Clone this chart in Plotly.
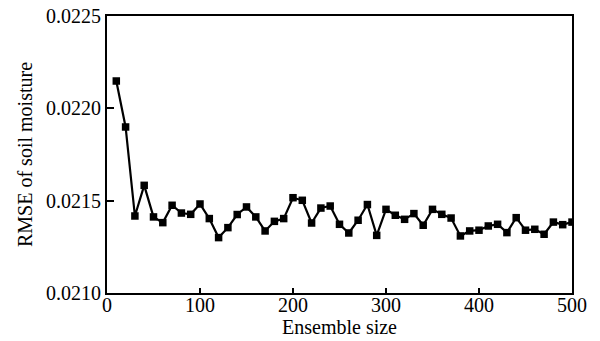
import plotly.graph_objects as go

ensemble_size = list(range(10, 510, 10))
rmse = [
    0.022148, 0.021899, 0.021417, 0.021583, 0.021412, 0.021381, 0.021475, 0.021433, 0.021426, 0.021482,
    0.021403, 0.021300, 0.021354, 0.021425, 0.021466, 0.021412, 0.021336, 0.021388, 0.021403, 0.021516,
    0.021502, 0.021379, 0.021460, 0.021471, 0.021372, 0.021325, 0.021394, 0.021479, 0.021312, 0.021453,
    0.021421, 0.021399, 0.021430, 0.021367, 0.021453, 0.021426, 0.021406, 0.021309, 0.021336, 0.021340,
    0.021363, 0.021372, 0.021327, 0.021408, 0.021340, 0.021345, 0.021318, 0.021384, 0.021370, 0.021384,
]
y_ticks = [0.0210, 0.0215, 0.0220, 0.0225]
y_ticklabels = ["0.0210", "0.0215", "0.0220", "0.0225"]
x_ticks = [0, 100, 200, 300, 400, 500]

fig = go.Figure()
fig.add_trace(go.Scatter(
    x=ensemble_size, y=rmse, mode="lines+markers",
    line=dict(color="black", width=2.2),
    marker=dict(symbol="square", size=7.5, color="black"),
    showlegend=False,
))

font = dict(family="Liberation Serif, Times New Roman, serif", size=20, color="black")
fig.update_layout(
    width=600, height=341,
    margin=dict(l=107, r=28, t=16, b=48),
    paper_bgcolor="white", plot_bgcolor="white",
    font=font,
)
fig.update_xaxes(
    range=[0, 500], tickvals=x_ticks, automargin=False,
    showline=True, linecolor="black", linewidth=2, mirror=True,
    ticks="inside", ticklen=5, tickwidth=1.5, tickcolor="black",
    showgrid=False, zeroline=False, ticklabelstandoff=-7,
    title=dict(text="Ensemble size", font=font, standoff=0),
    tickfont=font,
)
fig.update_yaxes(
    range=[0.0210, 0.0225], tickvals=y_ticks, ticktext=y_ticklabels, automargin=False,
    showline=True, linecolor="black", linewidth=2, mirror=True,
    ticks="inside", ticklen=7, tickwidth=1.5, tickcolor="black",
    showgrid=False, zeroline=False,
    title=dict(text="RMSE of soil moisture", font=font, standoff=8),
    tickfont=font,
)

fig.write_html(
    "out.html",
    config={"displayModeBar": False},
    post_script="document.body.style.margin='0';document.body.style.overflow='hidden';",
)
